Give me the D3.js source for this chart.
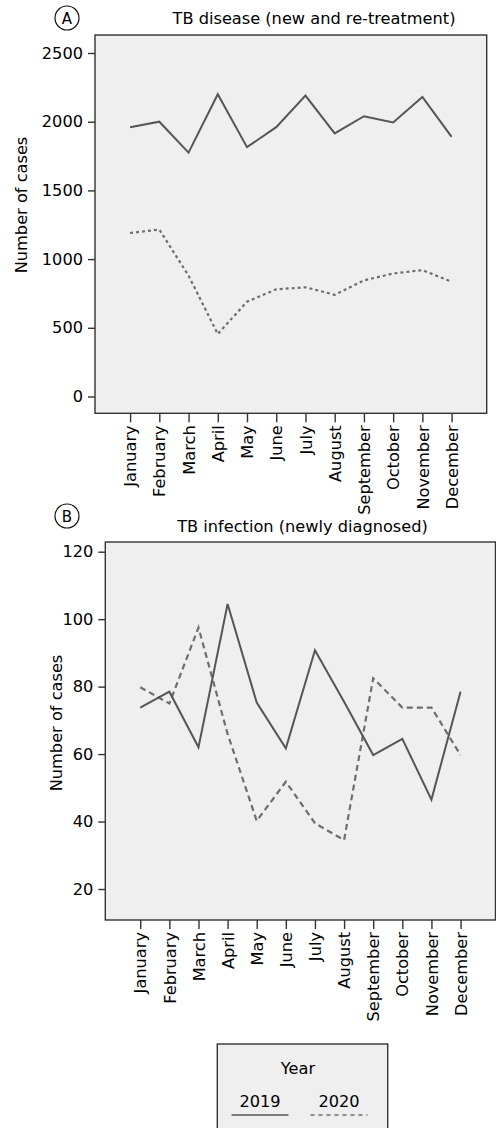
<!DOCTYPE html>
<html>
<head>
<meta charset="utf-8">
<script src="https://cdn.jsdelivr.net/npm/d3@7"></script>
<style>
    html, body { margin: 0; padding: 0; background: #fff; }
    text { font-family: 'DejaVu Sans', sans-serif; fill: #000; }
</style>
</head>
<body>
<div id="chart"></div>
<script>
'use strict';

const months = ['January', 'February', 'March', 'April', 'May', 'June', 'July', 'August', 'September', 'October', 'November', 'December'];
const years = ['2019', '2020'];

// TB disease (new and re-treatment)
const disease2019 = [1960, 2000, 1775, 2200, 1815, 1960, 2190, 1915, 2040, 1995, 2180, 1890];
const disease2020 = [1190, 1215, 880, 455, 690, 780, 795, 740, 845, 895, 920, 835];
const diseaseTicks = [0, 500, 1000, 1500, 2000, 2500];

// TB infection (newly diagnosed)
const infection2019 = [73.8, 78.5, 62, 104.5, 75.3, 61.7, 90.8, 75.5, 59.7, 64.5, 46.5, 78.5];
const infection2020 = [79.8, 75, 97.5, 66, 40.2, 51.8, 39.5, 34.5, 82.5, 73.8, 73.8, 59.7];
const infectionTicks = [20, 40, 60, 80, 100, 120];

let svg = d3.select('#chart').append('svg')
    .attr('width', 496)
    .attr('height', 1128);

let fontSize = 16.2;

function drawPanel(opts) {

    let g = svg.append('g');

    /*
    * plot frame, grey background with dark border
     */
    g.append('rect')
        .attr('x', opts.box.x0)
        .attr('y', opts.box.y0)
        .attr('width', opts.box.x1 - opts.box.x0)
        .attr('height', opts.box.y1 - opts.box.y0)
        .style('fill', '#efefef')
        .style('stroke', '#333')
        .style('stroke-width', 1.4);

    let x = d3.scalePoint()
        .domain(months)
        .range([opts.box.x0, opts.box.x1])
        .padding(1.2);

    let y = d3.scaleLinear()
        .domain(opts.yDomain)
        .range(opts.yRange);

    let yAxis = g.append('g')
        .attr('transform', 'translate(' + opts.box.x0 + ',0)')
        .call(d3.axisLeft(y).tickValues(opts.ticks).tickSize(7).tickPadding(5).tickFormat(d3.format('d')));

    yAxis.select('.domain').remove();
    yAxis.selectAll('line').style('stroke', '#333').style('stroke-width', 1.4);
    yAxis.selectAll('text').attr('font-size', fontSize).attr('font-family', 'DejaVu Sans').style('fill', '#000');

    let xAxis = g.append('g')
        .attr('transform', 'translate(0,' + opts.box.y1 + ')')
        .call(d3.axisBottom(x).tickSize(9).tickPadding(3));

    xAxis.select('.domain').remove();
    xAxis.selectAll('line').style('stroke', '#333').style('stroke-width', 1.4);
    xAxis.selectAll('text')
        .attr('font-size', fontSize)
        .attr('font-family', 'DejaVu Sans')
        .style('fill', '#000')
        .attr('text-anchor', 'end')
        .attr('dy', '0.35em')
        .attr('transform', 'rotate(-90)')
        .attr('x', -12)
        .attr('y', 0);

    let line = d3.line()
        .x(function(d, i) { return x(months[i]); })
        .y(function(d) { return y(d); });

    g.append('path')
        .datum(opts.series2020)
        .attr('d', line)
        .style('fill', 'none')
        .style('stroke', '#6e6e6e')
        .style('stroke-width', 2.2)
        .style('stroke-dasharray', opts.dash);

    g.append('path')
        .datum(opts.series2019)
        .attr('d', line)
        .style('fill', 'none')
        .style('stroke', '#555')
        .style('stroke-width', 2);

    // rotated axis title
    g.append('text')
        .text('Number of cases')
        .attr('font-size', fontSize)
        .attr('text-anchor', 'middle')
        .attr('transform', 'translate(' + opts.yLabel.x + ',' + opts.yLabel.y + ') rotate(-90)');

    // panel title
    g.append('text')
        .text(opts.title)
        .attr('font-size', fontSize)
        .attr('text-anchor', 'middle')
        .attr('x', opts.titlePos.x)
        .attr('y', opts.titlePos.y);

    // circled panel letter
    g.append('circle')
        .attr('cx', opts.letterPos.x)
        .attr('cy', opts.letterPos.y)
        .attr('r', 12)
        .style('fill', 'none')
        .style('stroke', '#111')
        .style('stroke-width', 1.2);

    g.append('text')
        .text(opts.letter)
        .attr('font-size', 15)
        .attr('text-anchor', 'middle')
        .attr('dominant-baseline', 'central')
        .attr('x', opts.letterPos.x)
        .attr('y', opts.letterPos.y + 0.5);
}

drawPanel({
    box: { x0: 95, x1: 486.7, y0: 35, y1: 413.3 },
    yDomain: [0, 2500],
    yRange: [396.5, 53],
    ticks: diseaseTicks,
    series2019: disease2019,
    series2020: disease2020,
    dash: '3,3',
    title: 'TB disease (new and re-treatment)',
    titlePos: { x: 314, y: 24 },
    letter: 'A',
    letterPos: { x: 67, y: 18 },
    yLabel: { x: 27, y: 205 }
});

drawPanel({
    box: { x0: 105.3, x1: 495.5, y0: 542, y1: 920 },
    yDomain: [20, 120],
    yRange: [889, 551.7],
    ticks: infectionTicks,
    series2019: infection2019,
    series2020: infection2020,
    dash: '6,4',
    title: 'TB infection (newly diagnosed)',
    titlePos: { x: 302.5, y: 532 },
    letter: 'B',
    letterPos: { x: 67, y: 516 },
    yLabel: { x: 62, y: 723 }
});

/*
* Legend for the two years
 */
let legend = svg.append('g');

legend.append('rect')
    .attr('x', 217.3)
    .attr('y', 1044)
    .attr('width', 170.4)
    .attr('height', 110)
    .style('fill', '#efefef')
    .style('stroke', '#333')
    .style('stroke-width', 1.4);

legend.append('text')
    .text('Year')
    .attr('font-size', fontSize)
    .attr('text-anchor', 'middle')
    .attr('x', 298)
    .attr('y', 1074);

let legendX = d3.scalePoint().domain(years).range([260, 339]);

let items = legend.selectAll('.item')
    .data(years)
    .enter()
    .append('g')
    .attr('class', 'item');

items.append('text')
    .text(function(d) { return d; })
    .attr('font-size', fontSize)
    .attr('text-anchor', 'middle')
    .attr('x', function(d) { return legendX(d); })
    .attr('y', 1107);

items.append('line')
    .attr('x1', function(d) { return legendX(d) - 28.5; })
    .attr('x2', function(d) { return legendX(d) + 28.5; })
    .attr('y1', 1115)
    .attr('y2', 1115)
    .style('stroke', function(d) { return d === '2019' ? '#555' : '#6e6e6e'; })
    .style('stroke-width', 1.6)
    .style('stroke-dasharray', function(d) { if (d === '2020') { return '4,4'; } });
</script>
</body>
</html>
